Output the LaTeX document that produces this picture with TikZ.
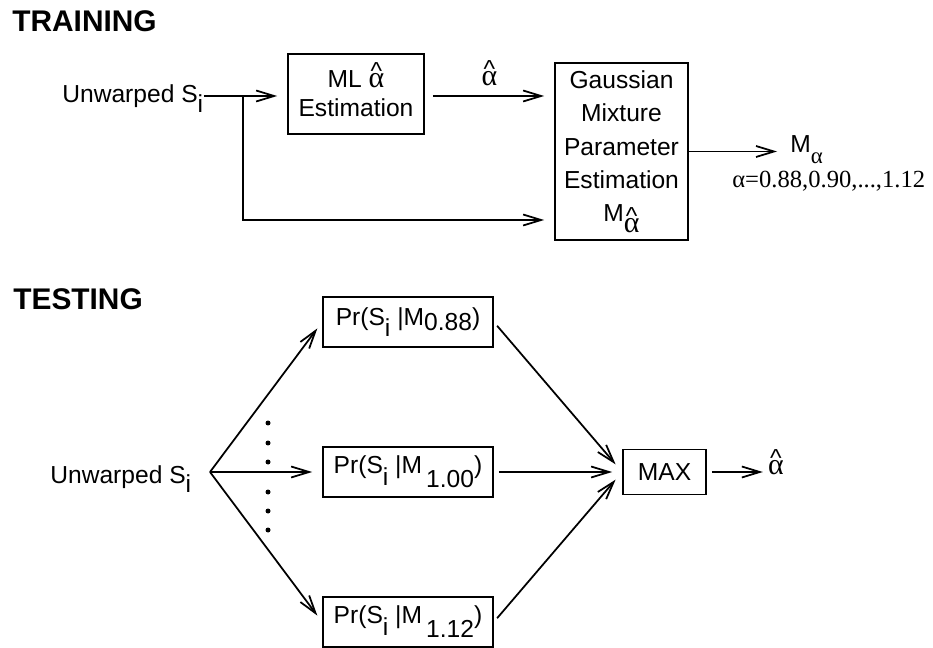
\documentclass[tikz,border=0pt]{standalone}
\usepackage{fontspec}
\setmainfont{Liberation Sans}
\newfontfamily\gr{Liberation Serif}
\usetikzlibrary{arrows.meta}

\newcommand{\ahat}{{\ooalign{{\gr\fontsize{17}{17}\selectfont α}\cr\hidewidth\raisebox{0.32em}{\textasciicircum}\hidewidth\cr}}}
\newcommand{\lowr}[2]{\raisebox{-#1}{#2}}

\begin{document}
\begin{tikzpicture}
        [x=0.02cm, y=-0.02cm,
        every node/.append style={font=\fontsize{14}{19}\selectfont},
        box/.style={draw, line width=1pt, inner sep=0pt, align=center},
        txt/.style={inner sep=0pt},
        heading/.style={inner sep=0pt, anchor=west, font=\fontsize{17}{20}\selectfont\bfseries},
        wire/.style={line width=1pt},
        arr/.style={wire, -{Straight Barb[length=0.36cm, width=0.22cm, line width=1pt]}}]

        \useasboundingbox (0,0) rectangle (933,648);

        % training part
        \node[heading] (train) at (12,21) {TRAINING};
        \node[txt, anchor=base west] (utrain) at (62,103) {Unwarped S\lowr{5.5pt}{i}};
        \node[box, minimum width=2.72cm, minimum height=1.6cm, font=\fontsize{14}{16.5}\selectfont] (ml) at (356,94) {ML \ahat\\Estimation};
        \node[box, minimum width=2.66cm, minimum height=3.54cm] (gmm) at (621.5,151.5) {Gaussian\\Mixture\\Parameter\\Estimation\\M\lowr{6pt}{\ahat}};
        \node[txt, anchor=base west] (malpha) at (790,153) {M\lowr{6pt}{\gr\fontsize{13}{13}\selectfont α}};
        \node[txt, anchor=base west, font=\gr\fontsize{14}{16}\selectfont] (arange) at (732,188) {α=0.88,0.90,...,1.12};

        \coordinate (split) at (243,96);
        \coordinate (bend) at (243,220);

        \draw[arr, shorten >=0.2cm] (utrain.east |- split) -- (ml.west |- split);
        \draw[arr, shorten <=0.16cm, shorten >=0.2cm] (ml.east |- split) -- (gmm.west |- split) node[midway, above=2pt] {\ahat};
        \draw[arr, shorten >=0.2cm] (split) -- (bend) -- (bend -| gmm.west);
        \draw[arr, shorten >=0.26cm] (gmm.east) -- (gmm.east -| malpha.west);

        % testing part
        \node[heading] (test) at (13,299) {TESTING};
        \node[txt, anchor=base west] (utest) at (50,483) {Unwarped S\lowr{5.5pt}{i}};
        \node[box, minimum width=3.4cm, minimum height=1cm] (p088) at (408,322) {Pr(S\lowr{6.5pt}{i} |M\lowr{3pt}{0.88})};
        \node[box, minimum width=3.4cm, minimum height=1cm] (p100) at (408,472) {Pr(S\lowr{6.5pt}{i} |M\,\lowr{8pt}{1.00})};
        \node[box, minimum width=3.4cm, minimum height=1cm] (p112) at (408,622) {Pr(S\lowr{6.5pt}{i} |M\,\lowr{8pt}{1.12})};
        \node[box, minimum width=1.66cm, minimum height=0.9cm] (mx) at (664.5,472) {MAX};
        \node[txt] (aout) at (776,467) {\ahat};

        \coordinate (fork) at (210,472);

        % dots between the branches
        \foreach \y in {423,443,462,492,511,530}
            \fill (268,\y) circle (0.05cm);

        \draw[arr, shorten >=0.16cm] (fork) -- (p088.west);
        \draw[arr, shorten >=0.2cm] (fork) -- (p100.west);
        \draw[arr, shorten >=0.16cm] (fork) -- (p112.west);

        \draw[arr, shorten <=0.1cm, shorten >=0.2cm] (p088.east) -- (mx.west);
        \draw[arr, shorten <=0.1cm, shorten >=0.2cm] (p100.east) -- (mx.west);
        \draw[arr, shorten <=0.1cm, shorten >=0.2cm] (p112.east) -- (mx.west);
        \draw[arr, shorten <=0.1cm, shorten >=0.1cm] (mx.east) -- (aout.west |- mx.east);

\end{tikzpicture}
\end{document}
